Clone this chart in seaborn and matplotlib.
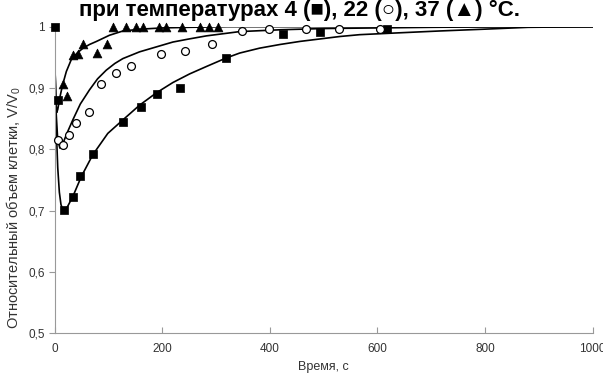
import matplotlib
matplotlib.use("Agg")
import matplotlib.pyplot as plt
import seaborn as sns
import pandas as pd

# ---- data ----
# model curves
t4 = [0, 1, 3, 6, 9, 12, 16, 22, 34, 50, 71, 99, 127, 158, 189, 220, 251, 282, 319, 344, 381, 419, 456, 493, 530, 567, 640, 715, 800, 880, 1000]
v4 = [1.0, 0.93, 0.84, 0.77, 0.73, 0.71, 0.70, 0.703, 0.723, 0.756, 0.791, 0.826, 0.848, 0.872, 0.892, 0.909, 0.923, 0.935, 0.949, 0.957, 0.965, 0.971, 0.976, 0.980, 0.984, 0.987, 0.990, 0.993, 0.996, 0.999, 1.0]
t22 = [0, 1, 3, 6, 10, 14, 18, 25, 34, 48, 65, 80, 96, 112, 127, 158, 189, 220, 250, 282, 344, 420, 500, 600, 700, 850, 1000]
v22 = [1.0, 0.93, 0.86, 0.815, 0.802, 0.805, 0.815, 0.83, 0.848, 0.874, 0.897, 0.915, 0.929, 0.940, 0.948, 0.959, 0.967, 0.975, 0.980, 0.985, 0.992, 0.995, 0.997, 0.998, 0.999, 1.0, 1.0]
t37 = [0, 1, 2, 4, 6, 10, 15, 22, 31, 42, 53, 65, 78, 90, 102, 127, 160, 200, 250, 320, 1000]
v37 = [1.0, 0.93, 0.89, 0.86, 0.865, 0.885, 0.905, 0.927, 0.946, 0.957, 0.965, 0.971, 0.976, 0.981, 0.986, 0.993, 0.996, 0.998, 0.999, 1.0, 1.0]

# experimental points
sq_t = [0, 6, 17, 35, 48, 71, 127, 161, 190, 233, 318, 425, 493, 617]
sq_v = [1.0, 0.880, 0.701, 0.723, 0.756, 0.792, 0.845, 0.869, 0.890, 0.900, 0.949, 0.988, 0.991, 0.996]
ci_t = [6, 15, 27, 39, 64, 87, 115, 143, 197, 243, 293, 349, 398, 468, 528, 605]
ci_v = [0.815, 0.807, 0.823, 0.843, 0.861, 0.907, 0.925, 0.936, 0.955, 0.960, 0.971, 0.993, 0.996, 0.996, 0.996, 0.996]
tr_t = [15, 24, 34, 43, 53, 79, 97, 108, 132, 152, 165, 194, 208, 236, 270, 287, 304]
tr_v = [0.907, 0.887, 0.954, 0.955, 0.972, 0.957, 0.972, 0.999, 0.999, 0.999, 0.999, 0.999, 0.999, 0.999, 0.999, 0.999, 0.999]

x_ticks = [0, 200, 400, 600, 800, 1000]
y_ticks = [0.5, 0.6, 0.7, 0.8, 0.9, 1.0]
y_tick_labels = ["0,5", "0,6", "0,7", "0,8", "0,9", "1"]

title = "при температурах 4 (■), 22 (○), 37 (▲) °С."
xlabel = "Время, с"
ylabel = "Относительный объем клетки, V/V$_0$"

# ---- plotting ----
sns.set_theme(style="white")
plt.rcParams["font.family"] = ["Liberation Sans", "DejaVu Sans"]
plt.rcParams["mathtext.default"] = "regular"

fig = plt.figure(figsize=(6.03, 3.76), dpi=100)
ax = fig.add_axes([0.0904, 0.1135, 0.8926, 0.8155])

curves = pd.concat([
    pd.DataFrame({"t": t4, "v": v4, "s": "4"}),
    pd.DataFrame({"t": t22, "v": v22, "s": "22"}),
    pd.DataFrame({"t": t37, "v": v37, "s": "37"}),
])
sns.lineplot(data=curves, x="t", y="v", units="s", estimator=None, sort=False,
             color="black", linewidth=1.2, ax=ax, legend=False)

gray = "#999999"
sns.scatterplot(x=sq_t, y=sq_v, marker="s", s=40, color="black", edgecolor="black",
                linewidth=0.5, ax=ax, clip_on=False, zorder=3)
sns.scatterplot(x=ci_t, y=ci_v, marker="o", s=32, facecolor="white", edgecolor="black",
                linewidth=0.9, ax=ax, clip_on=False, zorder=3)
sns.scatterplot(x=tr_t, y=tr_v, marker="^", s=40, color="black", edgecolor="black",
                linewidth=0.5, ax=ax, clip_on=False, zorder=3)

ax.set_xlim(0, 1000)
ax.set_ylim(0.5, 1.0)
ax.set_xticks(x_ticks)
ax.set_xticklabels([str(v) for v in x_ticks])
ax.set_yticks(y_ticks)
ax.set_yticklabels(y_tick_labels)

for side in ["top", "right"]:
    ax.spines[side].set_visible(False)
for side in ["left", "bottom"]:
    ax.spines[side].set_color(gray)
    ax.spines[side].set_linewidth(0.8)

ax.tick_params(axis="x", direction="in", length=4, width=0.8, color=gray,
               labelsize=8.5, labelcolor="#333333", pad=7)
ax.tick_params(axis="y", direction="out", length=4, width=0.8, color=gray,
               labelsize=8.5, labelcolor="#333333", pad=3)
ax.tick_params(bottom=True, left=True)

ax.set_xlabel(xlabel, fontsize=9, color="#333333", labelpad=4)
ax.set_ylabel(ylabel, fontsize=10.5, color="#333333")
ax.yaxis.set_label_coords(-0.058, 0.41)

fig.text(0.497, 0.958, title, ha="center", va="baseline", fontsize=16,
         fontweight="bold", color="black")

fig.savefig("out.png", dpi=100)
